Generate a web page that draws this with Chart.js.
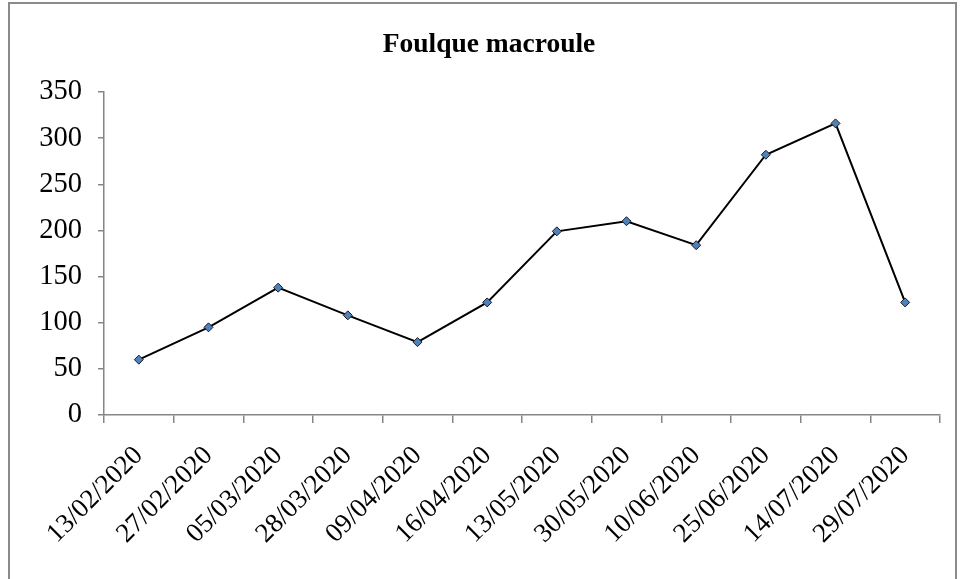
<!DOCTYPE html>
<html>
<head>
<meta charset="utf-8">
<script src="https://cdn.jsdelivr.net/npm/chart.js@4"></script>
<style>
  body { margin: 0; background: #fff; }
  #cadre { position: absolute; left: 8px; top: 2px; width: 945px; height: 590px;
           border: 2px solid #8a8a8a; pointer-events: none; }
  #graphique { position: absolute; left: 0; top: 0; }
</style>
</head>
<body>
<canvas id="graphique" width="960" height="579"></canvas>
<div id="cadre"></div>
<script>
const dates = ['13/02/2020', '27/02/2020', '05/03/2020', '28/03/2020', '09/04/2020', '16/04/2020',
               '13/05/2020', '30/05/2020', '10/06/2020', '25/06/2020', '14/07/2020', '29/07/2020'];
const effectifs = [60, 95, 138, 108, 79, 122, 199, 210, 184, 282, 316, 122];
const titre = 'Foulque macroule';

const gris = '#868686';
const police = 'Liberation Serif, Times New Roman, serif';

const ctx = document.getElementById('graphique').getContext('2d');
new Chart(ctx, {
    type: 'line',
    data: {
        labels: dates,
        datasets: [{
            label: titre,
            data: effectifs,
            borderColor: '#000',
            borderWidth: 2,
            pointStyle: 'rectRot',
            pointRadius: 4.5,
            pointBackgroundColor: '#4F81BD',
            pointBorderColor: '#1a1a1a',
            pointBorderWidth: 1,
            tension: 0
        }]
    },
    options: {
        responsive: false,
        animation: false,
        layout: { padding: { left: 38, right: 20, top: 0, bottom: 0 } },
        plugins: {
            legend: { display: false },
            tooltip: { enabled: false },
            title: {
                display: true,
                text: titre,
                color: '#000',
                font: { family: police, size: 27.5, weight: 'bold' },
                padding: { top: 28, bottom: 31 }
            }
        },
        scales: {
            x: {
                offset: true,
                grid: { offset: true, drawOnChartArea: false, drawTicks: true, tickLength: 8, color: gris, lineWidth: 1.5 },
                border: { color: gris, width: 1.5 },
                ticks: { color: '#000', font: { family: police, size: 27 }, minRotation: 45, maxRotation: 45, padding: 17, autoSkip: false },
                afterFit: s => { s.height = 164; }
            },
            y: {
                min: 0,
                max: 350,
                ticks: { stepSize: 50, color: '#000', font: { family: police, size: 28.5 }, padding: 16 },
                grid: { drawOnChartArea: false, drawTicks: true, tickLength: 6, color: gris, lineWidth: 1.5 },
                border: { color: gris, width: 1.5 },
                afterFit: s => { s.width = 66; }
            }
        }
    }
});
</script>
</body>
</html>
